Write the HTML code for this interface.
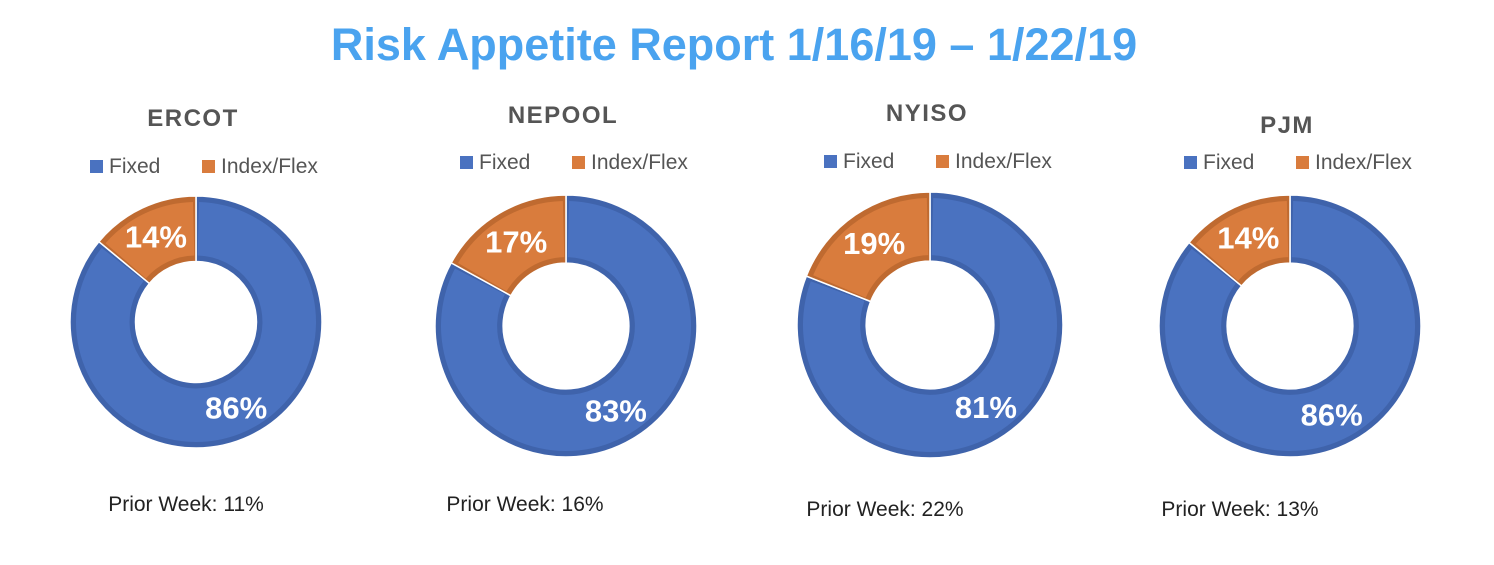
<!DOCTYPE html>
<html><head><meta charset="utf-8"><style>
body{margin:0;background:#fff;width:1494px;height:560px;overflow:hidden;font-family:"Liberation Sans",sans-serif}
</style></head><body>
<svg id="s" width="1494" height="560">
<text x="734" y="60" text-anchor="middle" font-size="45" font-weight="bold" fill="#4aa3ef">Risk Appetite Report 1/16/19 – 1/22/19</text>
</svg>
<script>
const regions=["ERCOT","NEPOOL","NYISO","PJM"];
const fixedPct=[86,83,81,86];
const indexPct=[14,17,19,14];
const priorWeek=["11%","16%","22%","13%"];
const layout=[
 {cx:196,cy:322,r:126,ty:126,ly:173,px:186,py:511},
 {cx:566,cy:326,r:131,ty:123,ly:169,px:525,py:511},
 {cx:930,cy:325,r:133,ty:121,ly:168,px:885,py:516},
 {cx:1290,cy:326,r:131,ty:133,ly:169,px:1240,py:516}];
const NS="http://www.w3.org/2000/svg",svg=document.getElementById('s');
function mk(t,a,p){const e=document.createElementNS(NS,t);for(const k in a)e.setAttribute(k,a[k]);(p||svg).appendChild(e);return e;}
function pt(cx,cy,r,f){const a=f*2*Math.PI;return [cx+r*Math.sin(a),cy-r*Math.cos(a)];}
function arc(cx,cy,ro,ri,f0,f1){const [x0,y0]=pt(cx,cy,ro,f0),[x1,y1]=pt(cx,cy,ro,f1),[x2,y2]=pt(cx,cy,ri,f1),[x3,y3]=pt(cx,cy,ri,f0);const l=(f1-f0)>0.5?1:0;
return `M${x0},${y0}A${ro},${ro} 0 ${l} 1 ${x1},${y1}L${x2},${y2}A${ri},${ri} 0 ${l} 0 ${x3},${y3}Z`;}
regions.forEach((name,i)=>{
 const L=layout[i],g=mk('g',{});
 
 
 const t=mk('text',{x:L.cx-3,y:L.ty,'text-anchor':'middle','font-size':24,'font-weight':'bold',fill:'#555','letter-spacing':'1.5'},g);t.textContent=name;
 
 const lx=L.cx-106;
 const r1=mk('rect',{x:lx,y:L.ly-13,width:13,height:13,fill:'#4a72c0'},g);
 
 const t1=mk('text',{x:lx+19,y:L.ly,'font-size':21,fill:'#555'},g);t1.textContent='Fixed';
 
 const r2=mk('rect',{x:lx+112,y:L.ly-13,width:13,height:13,fill:'#d97c3d'},g);
 
 const t2=mk('text',{x:lx+131,y:L.ly,'font-size':21,fill:'#555'},g);t2.textContent='Index/Flex';
 
 const ri=L.r*0.48,tot=fixedPct[i]+indexPct[i],ff=fixedPct[i]/tot;
 const segs=[[0,ff,'#4a72c0','#3f63ab',fixedPct[i],'fixed'],[ff,1,'#d97c3d','#bf6a30',indexPct[i],'index']];
 segs.forEach(s=>{
  const p=mk('path',{d:arc(L.cx,L.cy,L.r,ri,s[0],s[1]),fill:s[3],stroke:'#fff','stroke-width':1.5},g);
  
  mk('path',{d:arc(L.cx,L.cy,L.r-6,ri+6,s[0]+0.004,s[1]-0.004),fill:s[2]},g);
  const [x,y]=pt(L.cx,L.cy,(L.r+ri)/2+1,(s[0]+s[1])/2);
  const lt=mk('text',{x:x,y:y+11,'text-anchor':'middle','font-size':31,'font-weight':'bold',fill:'#fff'},g);lt.textContent=s[4]+'%';
  
 });
 const pw=mk('text',{x:L.px,y:L.py,'text-anchor':'middle','font-size':21,fill:'#222'},g);pw.textContent='Prior Week: '+priorWeek[i];
 
});
</script>
</body></html>
